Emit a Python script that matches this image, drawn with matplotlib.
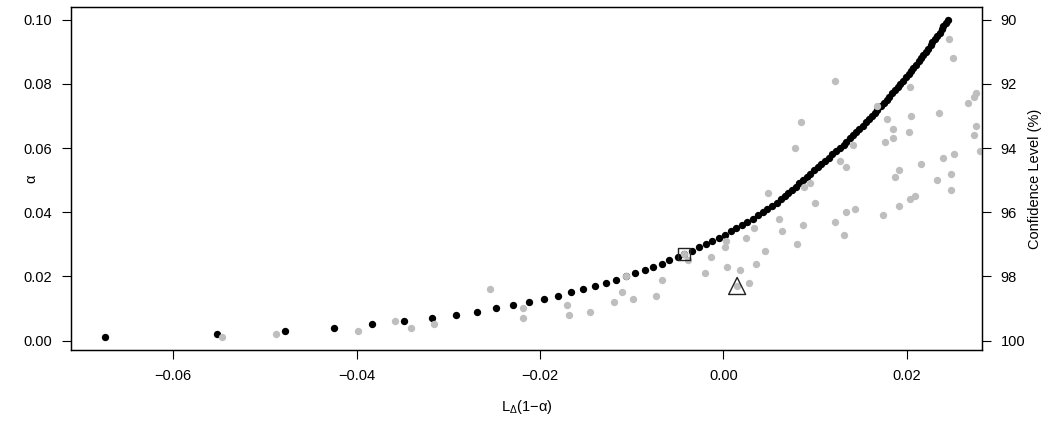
import matplotlib
matplotlib.use('Agg')
import matplotlib.pyplot as plt

plt.rcParams['font.family'] = ['Liberation Sans', 'DejaVu Sans']
plt.rcParams['mathtext.fontset'] = 'custom'
plt.rcParams['mathtext.rm'] = 'Liberation Sans'
plt.rcParams['mathtext.it'] = 'Liberation Sans:italic'

# --- data ---
# black series: alpha grid 0.001 .. 0.100 and its L_Delta(1-alpha)
black_alpha = [
    0.001, 0.002, 0.003, 0.004, 0.005, 0.006, 0.007, 0.008, 0.009, 0.010,
    0.011, 0.012, 0.013, 0.014, 0.015, 0.016, 0.017, 0.018, 0.019, 0.020,
    0.021, 0.022, 0.023, 0.024, 0.025, 0.026, 0.027, 0.028, 0.029, 0.030,
    0.031, 0.032, 0.033, 0.034, 0.035, 0.036, 0.037, 0.038, 0.039, 0.040,
    0.041, 0.042, 0.043, 0.044, 0.045, 0.046, 0.047, 0.048, 0.049, 0.050,
    0.051, 0.052, 0.053, 0.054, 0.055, 0.056, 0.057, 0.058, 0.059, 0.060,
    0.061, 0.062, 0.063, 0.064, 0.065, 0.066, 0.067, 0.068, 0.069, 0.070,
    0.071, 0.072, 0.073, 0.074, 0.075, 0.076, 0.077, 0.078, 0.079, 0.080,
    0.081, 0.082, 0.083, 0.084, 0.085, 0.086, 0.087, 0.088, 0.089, 0.090,
    0.091, 0.092, 0.093, 0.094, 0.095, 0.096, 0.097, 0.098, 0.099, 0.100,
]
black_L = [
    -0.0674, -0.0552, -0.0478, -0.0425, -0.0383, -0.0348, -0.0318, -0.0292, -0.0269, -0.0248,
    -0.0229, -0.0212, -0.0196, -0.0180, -0.0166, -0.0153, -0.0140, -0.0128, -0.0117, -0.0106,
    -0.0096, -0.0086, -0.0077, -0.0067, -0.0059, -0.0050, -0.0043, -0.0034, -0.0027, -0.0019,
    -0.0012, -0.0005, 0.0002, 0.0008, 0.0014, 0.0020, 0.0026, 0.0032, 0.0038, 0.0043,
    0.0048, 0.0053, 0.0058, 0.0063, 0.0067, 0.0071, 0.0075, 0.0079, 0.0083, 0.0087,
    0.0091, 0.0095, 0.0099, 0.0103, 0.0107, 0.0111, 0.0115, 0.0119, 0.0123, 0.0127,
    0.0131, 0.0134, 0.0138, 0.0141, 0.0145, 0.0148, 0.0152, 0.0155, 0.0159, 0.0162,
    0.0165, 0.0168, 0.0172, 0.0175, 0.0178, 0.0181, 0.0184, 0.0187, 0.0190, 0.0193,
    0.0196, 0.0199, 0.0202, 0.0205, 0.0207, 0.0210, 0.0213, 0.0216, 0.0218, 0.0221,
    0.0223, 0.0226, 0.0228, 0.0231, 0.0233, 0.0236, 0.0238, 0.0240, 0.0243, 0.0245,
]

# grey series (only the points visible inside the plot window)
grey_alpha = [
    0.001, 0.002, 0.003, 0.004, 0.005, 0.006, 0.007, 0.008, 0.009, 0.010,
    0.011, 0.012, 0.013, 0.014, 0.015, 0.016, 0.017, 0.018, 0.019, 0.020,
    0.021, 0.022, 0.023, 0.024, 0.025, 0.026, 0.027, 0.028, 0.029, 0.030,
    0.031, 0.032, 0.033, 0.034, 0.035, 0.036, 0.037, 0.038, 0.039, 0.040,
    0.041, 0.042, 0.043, 0.044, 0.045, 0.046, 0.047, 0.048, 0.049, 0.050,
    0.051, 0.052, 0.053, 0.054, 0.055, 0.056, 0.057, 0.058, 0.059, 0.060,
    0.061, 0.062, 0.063, 0.064, 0.065, 0.066, 0.067, 0.068, 0.069, 0.070,
    0.071, 0.073, 0.074, 0.076, 0.077, 0.079, 0.081, 0.088, 0.094,
]
grey_L = [
    -0.0547, -0.0488, -0.0398, -0.0341, -0.0316, -0.0358, -0.0218, -0.0168, -0.0146, -0.0218,
    -0.0171, -0.0119, -0.0099, -0.0074, -0.0111, -0.0255, 0.0015, 0.0028, -0.0067, -0.0106,
    -0.0020, 0.0018, 0.0004, 0.0036, -0.0039, -0.0014, -0.0043, 0.0045, 0.0002, 0.0080,
    0.0003, 0.0025, 0.0132, 0.0064, 0.0033, 0.0087, 0.0122, 0.0061, 0.0174, 0.0134,
    0.0144, 0.0192, 0.0100, 0.0204, 0.0209, 0.0049, 0.0248, 0.0088, 0.0094, 0.0233,
    0.0187, 0.0248, 0.0192, 0.0134, 0.0216, 0.0127, 0.0239, 0.0252, 0.0280, 0.0078,
    0.0141, 0.0176, 0.0185, 0.0273, 0.0202, 0.0185, 0.0275, 0.0085, 0.0178, 0.0205,
    0.0235, 0.0168, 0.0267, 0.0273, 0.0276, 0.0203, 0.0122, 0.0250, 0.0246,
]

# highlighted points
square_pt = (-0.0043, 0.027)
triangle_pt = (0.0015, 0.017)

x_ticks = [-0.06, -0.04, -0.02, 0.00, 0.02]
x_labels = ['\u22120.06', '\u22120.04', '\u22120.02', '0.00', '0.02']
y_ticks = [0.00, 0.02, 0.04, 0.06, 0.08, 0.10]
y_labels = ['0.00', '0.02', '0.04', '0.06', '0.08', '0.10']
conf_ticks = [90, 92, 94, 96, 98, 100]

fig = plt.figure(figsize=(10.5, 4.24), dpi=100)
ax = fig.add_axes([0.0676, 0.1745, 0.8676, 0.809])

ax.scatter(black_L, black_alpha, s=28, color='black', linewidths=0, zorder=2)
ax.scatter(grey_L, grey_alpha, s=28, color='#BEBEBE', linewidths=0, zorder=3)
ax.scatter([square_pt[0]], [square_pt[1]], marker='s', s=75, facecolors='none',
           edgecolors='#222222', linewidths=1.0, zorder=4)
ax.scatter([triangle_pt[0]], [triangle_pt[1]], marker='^', s=150, facecolors='none',
           edgecolors='#222222', linewidths=1.0, zorder=4)

ax.set_xlim(-0.07115, 0.0282)
ax.set_ylim(-0.00296, 0.10396)

ax.set_xticks(x_ticks)
ax.set_xticklabels(x_labels)
ax.set_yticks(y_ticks)
ax.set_yticklabels(y_labels)
ax.tick_params(direction='out', length=6.5, width=0.8, labelsize=10.5, pad=7)

ax.set_xlabel('L$_{\\Delta}$(1\u2212\u03b1)', fontsize=10.5)
ax.xaxis.set_label_coords(0.5, -0.14)
ax.set_ylabel('\u03b1', fontsize=10.5)
ax.yaxis.set_label_coords(-0.036, 0.5)

for sp in ax.spines.values():
    sp.set_linewidth(0.9)

# right axis: confidence level = 100 * (1 - alpha)
ax2 = ax.twinx()
lo, hi = ax.get_ylim()
ax2.set_ylim(100 * (1 - lo), 100 * (1 - hi))
ax2.set_yticks(conf_ticks)
ax2.set_yticklabels([str(t) for t in conf_ticks])
ax2.tick_params(direction='out', length=6.5, width=0.8, labelsize=10.5, pad=7)
ax2.set_ylabel('Confidence Level (%)', fontsize=10.5)
ax2.yaxis.set_label_coords(1.05, 0.5)
for sp in ax2.spines.values():
    sp.set_linewidth(0.9)

fig.savefig('out.png', dpi=100)
